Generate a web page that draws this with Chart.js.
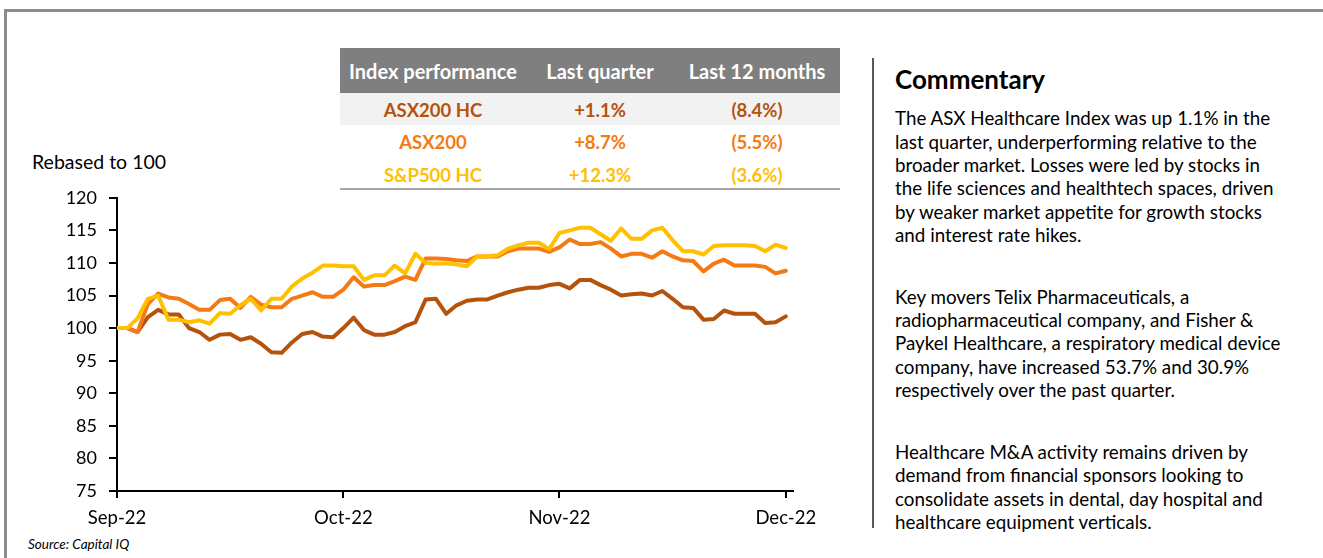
<!DOCTYPE html>
<html>
<head>
<meta charset="utf-8">
<script src="https://cdn.jsdelivr.net/npm/chart.js@4.4.1/dist/chart.umd.min.js"></script>
<style>
  body { margin: 0; background: #fff; font-family: Lato, "Open Sans", sans-serif; }
  #page { position: relative; width: 1323px; height: 558px; overflow: hidden; }
  #frameTop { position: absolute; left: 4px; top: 9px; width: 1319px; height: 3px; background: #8c8c8c; }
  #frameLeft { position: absolute; left: 4px; top: 9px; width: 3px; height: 549px; background: #8c8c8c; }
  #yTitle { position: absolute; left: 32px; top: 150px; font-size: 19.5px; color: #000; }
  #chartBox { position: absolute; left: 0; top: 175px; width: 830px; height: 355px; }
  #source { position: absolute; left: 28px; top: 536px; font-size: 13.5px; font-style: italic; color: #000; }
  table { position: absolute; left: 340px; top: 48px; width: 500px; border-collapse: collapse; font-weight: bold; font-size: 18.5px; }
  th { background: #7f7f7f; color: #fff; height: 45px; padding: 0; font-weight: bold; font-size: 20px; }
  td { height: 30px; padding: 2px 0 0 0; text-align: center; }
  tr.r1 td { background: #f2f2f2; }
  tr.last td { height: 26px; padding-top: 5px; border-bottom: 2px solid #a6a6a6; }
  #divider { position: absolute; left: 872px; top: 58px; width: 2px; height: 470px; background: #595959; }
  #comment { position: absolute; left: 895px; top: 64px; color: #000; white-space: nowrap; }
  #comment h2 { margin: 0 0 12.4px 0; font-size: 26px; font-weight: bold; line-height: 30px; }
  #comment p { margin: 0 0 38.7px 0; font-size: 18.8px; line-height: 23.3px; }
</style>
</head>
<body>
<div id="page">
  <div id="frameTop"></div>
  <div id="frameLeft"></div>

  <table>
    <tr>
      <th style="width:186px">Index performance</th>
      <th style="width:148px">Last quarter</th>
      <th style="width:166px">Last 12 months</th>
    </tr>
    <tr class="r1" style="color:#b5520b"><td>ASX200 HC</td><td>+1.1%</td><td>(8.4%)</td></tr>
    <tr style="color:#f47a14"><td>ASX200</td><td>+8.7%</td><td>(5.5%)</td></tr>
    <tr class="last" style="color:#ffc000"><td>S&amp;P500 HC</td><td>+12.3%</td><td>(3.6%)</td></tr>
  </table>

  <div id="yTitle">Rebased to 100</div>
  <div id="chartBox"><canvas id="mycanvas"></canvas></div>
  <div id="source">Source: Capital IQ</div>

  <div id="divider"></div>
  <div id="comment">
    <h2>Commentary</h2>
    <p>The ASX Healthcare Index was up 1.1% in the<br>last quarter, underperforming relative to the<br>broader market. Losses were led by stocks in<br>the life sciences and healthtech spaces, driven<br>by weaker market appetite for growth stocks<br>and interest rate hikes.</p>
    <p>Key movers Telix Pharmaceuticals, a<br>radiopharmaceutical company, and Fisher &amp;<br>Paykel Healthcare, a respiratory medical device<br>company, have increased 53.7% and 30.9%<br>respectively over the past quarter.</p>
    <p>Healthcare M&amp;A activity remains driven by<br>demand from financial sponsors looking to<br>consolidate assets in dental, day hospital and<br>healthcare equipment verticals.</p>
  </div>
</div>

<script>
// trading days, Sep-22 .. Dec-22, rebased to 100
var asx200hc = [100, 100, 99.4, 101.7, 102.8, 102.1, 102.1, 100.0, 99.4, 98.2,
	99.0, 99.1, 98.2, 98.6, 97.6, 96.3, 96.2, 97.8, 99.1, 99.4,
	98.7, 98.6, 100.0, 101.6, 99.7, 99.0, 99.0, 99.4, 100.3, 100.9,
	104.4, 104.5, 102.2, 103.5, 104.2, 104.4, 104.4, 105.0, 105.5, 105.9,
	106.2, 106.2, 106.6, 106.8, 106.1, 107.4, 107.4, 106.6, 105.9, 105.0,
	105.2, 105.3, 105.0, 105.7, 104.5, 103.2, 103.1, 101.3, 101.4, 102.7,
	102.2, 102.2, 102.2, 100.8, 100.9, 101.8];

var asx200 = [100, 100, 99.4, 103.7, 105.3, 104.7, 104.5, 103.7, 102.8, 102.8,
	104.3, 104.5, 103.1, 104.8, 103.6, 103.2, 103.2, 104.5, 105.0, 105.5,
	104.8, 104.8, 105.9, 107.8, 106.4, 106.6, 106.6, 107.2, 107.9, 107.4,
	110.7, 110.7, 110.6, 110.4, 110.3, 111.0, 111.0, 111.0, 111.8, 112.2,
	112.2, 112.2, 111.7, 112.4, 113.6, 112.9, 112.9, 113.2, 112.2, 111.0,
	111.4, 111.4, 110.8, 111.8, 111.0, 110.4, 110.3, 108.7, 109.9, 110.5,
	109.6, 109.6, 109.6, 109.4, 108.4, 108.8];

var sp500hc = [100, 100, 101.5, 104.5, 105.0, 101.3, 101.3, 100.9, 101.2, 100.7,
	102.3, 102.2, 103.5, 104.5, 102.7, 104.5, 104.5, 106.4, 107.6, 108.5,
	109.6, 109.6, 109.5, 109.5, 107.4, 108.1, 108.1, 109.6, 108.4, 111.4,
	110.0, 109.9, 109.9, 109.8, 109.5, 111.0, 111.0, 111.2, 112.2, 112.7,
	113.1, 113.1, 112.1, 114.6, 115.0, 115.4, 115.4, 114.4, 113.4, 115.3,
	113.7, 113.7, 115.0, 115.4, 113.5, 111.8, 111.8, 111.3, 112.6, 112.7,
	112.7, 112.7, 112.6, 111.8, 112.8, 112.3];

// month ticks (trading day index) and their labels
var monthTicks = [0, 22, 43, 65];
var monthLabels = ["Sep-22", "Oct-22", "Nov-22", "Dec-22"];

function toPoints(arr) {
	var pts = [];
	for (var i in arr) {
		pts.push({ x: Number(i), y: arr[i] });
	}
	return pts;
}

var chartdata = {
	datasets: [
		{ label: "ASX200 HC", data: toPoints(asx200hc), borderColor: "#b5520b", order: 3 },
		{ label: "ASX200", data: toPoints(asx200), borderColor: "#f47a14", order: 2 },
		{ label: "S&P500 HC", data: toPoints(sp500hc), borderColor: "#ffc000", order: 1 }
	]
};

chartdata.datasets.forEach(function(ds) {
	ds.borderWidth = 4;
	ds.pointRadius = 0;
	ds.tension = 0;
	ds.fill = false;
	ds.borderJoinStyle = "round";
	ds.borderCapStyle = "round";
});

var ctx = document.getElementById("mycanvas");

var LineGraph = new Chart(ctx, {
	type: 'line',
	data: chartdata,
	options: {
		responsive: true,
		maintainAspectRatio: false,
		animation: false,
		// top gap comes from the y tick label overflow (half label + padding)
		layout: { padding: { top: 0, right: 37, left: 0, bottom: 0 } },
		plugins: { legend: { display: false }, tooltip: { enabled: false } },
		scales: {
			x: {
				type: 'linear',
				min: 0,
				max: 65.7,
				afterBuildTicks: function(scale) {
					scale.ticks = monthTicks.map(function(v) { return { value: v }; });
				},
				afterFit: function(scale) { scale.height = 39; },
				ticks: {
					autoSkip: false,
					maxRotation: 0,
					padding: 9,
					color: "#000",
					font: { family: "Lato", size: 18.5 },
					callback: function(value, index) { return monthLabels[index]; }
				},
				grid: { drawOnChartArea: false, drawTicks: true, tickLength: 7, color: "#000", lineWidth: 2 },
				border: { color: "#000", width: 2 }
			},
			y: {
				min: 75,
				max: 120,
				afterFit: function(scale) { scale.width = 117; },
				ticks: {
					stepSize: 5,
					padding: 12,
					color: "#000",
					font: { family: "Lato", size: 18 }
				},
				grid: { drawOnChartArea: false, drawTicks: true, tickLength: 8, color: "#000", lineWidth: 2 },
				border: { color: "#000", width: 2 }
			}
		}
	}
});
</script>
</body>
</html>
